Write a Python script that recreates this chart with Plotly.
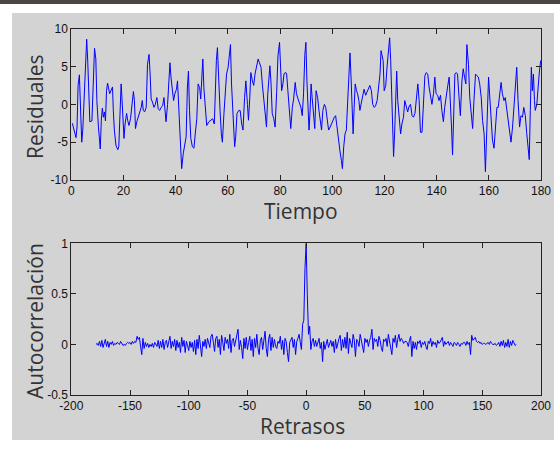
import plotly.graph_objects as go

# ---------------- data ----------------
tiempo = [
    0.4, 1.1, 1.8, 2.2, 2.6, 3.1, 3.5, 4.0, 4.4, 4.8,
    5.2, 5.6, 5.9, 6.3, 6.7, 7.1, 7.9, 8.5, 8.9, 9.4,
    9.8, 10.4, 10.8, 11.1, 11.5, 11.9, 12.3, 12.7, 13.1, 13.5,
    13.9, 14.3, 14.7, 15.3, 15.8, 16.1, 16.5, 17.1, 17.8, 18.2,
    18.7, 19.1, 19.4, 19.8, 20.2, 20.6, 21.2, 21.6, 22.1, 22.7,
    23.2, 23.8, 24.2, 24.6, 25.1, 25.7, 26.2, 26.8, 27.2, 27.6,
    28.1, 28.7, 29.2, 29.8, 30.2, 30.6, 31.1, 31.7, 32.2, 32.8,
    33.3, 33.9, 34.4, 35.0, 35.5, 35.9, 36.3, 36.9, 37.4, 37.8,
    38.2, 38.8, 39.2, 39.7, 40.3, 40.7, 41.1, 41.5, 41.9, 42.3,
    42.9, 43.4, 44.0, 44.5, 44.9, 45.3, 45.8, 46.4, 47.0, 47.5,
    48.1, 48.6, 49.2, 49.6, 50.0, 50.4, 50.8, 51.4, 51.9, 52.7,
    53.5, 54.2, 54.8, 55.2, 55.6, 56.0, 56.4, 57.0, 57.5, 57.9,
    58.5, 59.0, 59.5, 60.1, 60.6, 61.0, 61.4, 62.0, 62.6, 63.0,
    63.5, 64.2, 64.7, 65.3, 65.8, 66.4, 66.9, 67.5, 67.9, 68.4,
    68.8, 69.4, 69.9, 70.4, 71.0, 71.6, 72.1, 72.7, 73.2, 73.8,
    74.3, 74.8, 75.3, 75.7, 76.1, 76.5, 77.0, 77.6, 78.1, 78.7,
    79.2, 79.8, 80.2, 80.6, 81.1, 81.5, 81.9, 82.5, 83.0, 83.6,
    84.1, 84.7, 85.2, 85.8, 86.3, 86.9, 87.4, 88.0, 88.5, 89.0,
    89.5, 89.9, 90.3, 90.7, 91.1, 91.5, 91.9, 92.3, 92.9, 93.3,
    93.8, 94.4, 94.9, 95.5, 95.9, 96.4, 97.0, 97.5, 98.1, 98.6,
    99.2, 99.7, 100.2, 100.8, 101.3, 101.9, 102.4, 103.0, 103.5, 103.9,
    104.4, 104.9, 105.4, 106.0, 106.4, 106.8, 107.2, 107.6, 108.0, 108.4,
    108.8, 109.3, 109.7, 110.2, 110.6, 111.2, 111.7, 112.2, 112.8, 113.3,
    113.9, 114.4, 115.0, 115.5, 116.1, 116.6, 117.2, 117.7, 118.3, 118.7,
    119.1, 119.5, 119.9, 120.5, 121.0, 121.5, 122.0, 122.4, 122.8, 123.2,
    123.5, 123.9, 124.3, 124.7, 125.1, 125.6, 126.2, 126.7, 127.3, 127.8,
    128.4, 128.9, 129.5, 130.0, 130.6, 131.1, 131.7, 132.2, 132.8, 133.3,
    133.8, 134.4, 134.9, 135.5, 136.0, 136.6, 137.1, 137.7, 138.2, 138.8,
    139.3, 139.8, 140.4, 140.9, 141.5, 142.0, 142.6, 143.1, 143.7, 144.2,
    144.8, 145.3, 145.7, 146.1, 146.6, 147.0, 147.5, 148.0, 148.6, 149.1,
    149.7, 150.2, 150.7, 151.2, 151.6, 152.2, 152.7, 153.2, 153.8, 154.3,
    154.9, 155.4, 156.0, 156.5, 157.1, 157.6, 158.2, 158.7, 159.1, 159.5,
    159.9, 160.3, 160.9, 161.4, 162.0, 162.5, 163.1, 163.6, 164.2, 164.7,
    165.2, 165.8, 166.3, 166.9, 167.4, 168.0, 168.5, 169.1, 169.6, 170.2,
    170.7, 171.2, 171.8, 172.3, 172.9, 173.4, 174.0, 174.5, 175.1, 175.5,
    175.9, 176.3, 176.7, 177.1, 177.5, 177.8, 178.4, 178.9, 179.4, 179.9,
]

residuales = [
    -2.5, -3.7, -4.4, -3.0, 2.5, 3.9, -0.8, -5.0, -3.4, 0.0,
    3.1, 6.6, 8.6, 5.7, 0.5, -2.3, -2.2, 4.9, 7.4, 6.0,
    0.5, -3.0, -4.7, -5.9, -2.1, -0.5, -1.7, -1.0, -2.2, 1.8,
    2.8, 2.0, 1.4, 1.9, 2.3, -0.8, -3.4, -5.4, -6.0, -5.6,
    -1.2, 2.7, 0.9, -3.0, -4.5, -2.6, -1.2, -2.1, -2.8, -1.9,
    -0.4, 1.7, 0.5, -3.2, -2.3, -1.7, -1.0, -0.4, 0.5, -0.8,
    -1.0, -0.4, 5.3, 6.6, 4.0, 0.7, 0.3, -0.4, 0.0, 0.9,
    -0.6, -0.8, -0.4, -0.2, 0.9, -1.0, -2.3, 0.0, 4.0, 5.5,
    3.6, 1.8, 0.5, 1.4, 2.0, 3.1, 0.5, -2.8, -6.5, -8.5,
    -6.5, -5.6, -4.3, 2.3, 4.4, -0.8, -4.5, -5.6, -5.8, -3.9,
    -1.9, 2.7, 2.2, 0.7, 3.6, 6.0, 2.2, -0.4, -2.8, -2.3,
    -2.1, -1.9, -2.6, 3.1, 5.8, 7.5, 3.1, -0.8, -3.9, -5.0,
    -1.2, 0.9, 4.0, 4.9, 6.6, 7.9, 2.7, -1.2, -5.6, -4.3,
    -1.2, -0.8, -0.8, -2.6, -3.4, 0.9, 3.1, 0.0, -2.1, 0.9,
    4.2, 3.1, 2.5, 4.0, 4.9, 6.0, 5.5, 4.9, 2.7, 0.3,
    -1.7, -3.0, 1.4, 4.0, 5.1, 3.1, -1.2, -1.9, -3.0, 1.6,
    6.4, 8.2, 5.3, 1.8, 2.7, 4.0, 4.2, 4.1, 1.8, -1.7,
    -3.2, -0.4, 0.7, 2.9, 1.4, 0.7, 0.3, -0.4, -1.5, 1.4,
    6.6, 8.2, 3.1, -0.8, -3.4, -1.0, 2.7, 0.9, -2.1, -3.2,
    1.8, 0.9, -0.8, -2.6, -3.4, -0.8, 0.0, -0.4, -2.3, -3.4,
    -3.0, -2.6, -2.1, -1.7, -1.5, -3.4, -4.3, -6.3, -7.4, -8.5,
    -5.6, -3.9, -3.4, 0.5, 4.4, 6.8, 3.6, 0.0, -3.9, -0.4,
    2.7, 1.8, 1.4, 0.5, -0.8, 0.3, 1.4, 2.0, 1.2, 1.6,
    2.0, 2.5, 1.8, 0.0, -0.4, -0.2, 0.5, 2.0, 4.0, 7.1,
    6.2, 5.8, 1.8, 2.5, 4.9, 7.1, 8.8, 5.8, 0.5, -3.4,
    -6.9, -3.9, -0.4, 4.4, 0.5, -2.1, -3.9, -2.6, -1.7, 0.5,
    -0.4, -1.0, -0.2, 0.0, -1.5, -1.7, -1.2, 0.5, 2.7, 0.5,
    -3.7, -3.7, 0.5, 3.8, 4.2, 4.0, 2.3, 0.9, 0.0, 1.4,
    3.6, 1.4, 1.2, 0.5, 1.2, -0.8, -2.3, -0.4, 1.4, 2.3,
    3.6, 0.5, -3.0, -6.7, -1.7, 4.0, 4.2, 4.0, 0.9, -1.5,
    3.1, 4.7, 3.6, 2.7, 7.9, 5.3, 0.9, -0.8, -3.2, 0.5,
    4.0, 3.8, 3.6, 2.7, 0.9, -2.1, -3.9, -8.9, -5.2, 0.0,
    3.6, 1.4, -3.0, -4.7, -5.8, -3.0, -0.4, -0.4, 1.4, 2.9,
    1.4, 0.5, 0.9, -0.6, -2.1, -3.9, -5.0, -3.0, -0.4, 2.7,
    4.9, 0.5, -3.0, -1.5, -1.7, -0.4, -1.5, -3.7, -6.1, -7.3,
    -0.8, 4.9, 1.8, 4.0, 0.5, -0.8, 0.0, 2.7, 4.4, 5.8,
]

# autocorrelation, lags -179 .. -1
acf_neg = [
    0.00, 0.01, -0.01, 0.03, -0.02, 0.04, -0.03, 0.02, 0.05, -0.02,
    0.03, -0.03, 0.02, 0.00, 0.03, -0.01, 0.01, 0.00, 0.02, 0.01,
    0.00, 0.03, 0.01, -0.01, 0.00, -0.01, 0.01, 0.02, 0.01, 0.02,
    0.00, 0.03, 0.01, 0.03, 0.02, 0.08, 0.05, 0.07, -0.02, -0.10,
    0.06, -0.04, 0.02, -0.02, 0.01, -0.03, 0.00, -0.02, 0.01, -0.03,
    0.02, 0.00, -0.02, 0.04, -0.04, 0.03, -0.03, 0.05, -0.05, 0.02,
    0.04, -0.03, 0.02, 0.08, -0.04, 0.03, -0.02, 0.05, -0.06, 0.04,
    -0.03, 0.02, -0.08, 0.07, -0.02, 0.04, -0.08, 0.03, -0.01, -0.06,
    0.03, -0.03, 0.02, -0.07, 0.04, -0.10, 0.05, -0.04, 0.09, -0.06,
    -0.12, 0.03, -0.02, 0.05, -0.04, 0.06, 0.02, -0.03, 0.08, 0.10,
    0.02, -0.07, 0.06, 0.08, -0.03, 0.05, -0.10, 0.09, 0.02, -0.06,
    0.07, 0.01, 0.05, -0.04, 0.10, -0.08, 0.04, 0.06, -0.02, 0.03,
    0.08, 0.15, -0.05, 0.04, -0.03, -0.14, 0.06, -0.04, 0.07, -0.05,
    0.02, 0.08, -0.06, 0.05, -0.12, 0.06, -0.03, 0.10, -0.04, -0.10,
    0.04, 0.07, -0.05, 0.06, 0.13, -0.04, -0.12, 0.05, 0.10, -0.06,
    0.07, -0.03, 0.05, -0.02, -0.04, 0.03, 0.01, 0.08, -0.05, 0.04,
    -0.10, 0.06, 0.03, -0.08, -0.17, 0.02, 0.04, 0.07, -0.03, 0.05,
    -0.10, 0.03, 0.06, 0.10, 0.02, -0.05, 0.20, 0.24, 0.75,
]
acf_cero = [1.0]
# lags 1 .. 179
acf_pos = [
    0.48, 0.10, 0.18, -0.05, 0.03, 0.06, -0.02, 0.04, -0.02, 0.03,
    0.06, -0.04, 0.02, -0.17, 0.03, -0.05, 0.02, 0.05, -0.03, 0.01,
    0.04, -0.02, 0.03, -0.08, 0.05, -0.04, 0.02, 0.06, 0.09, -0.06,
    0.05, -0.03, 0.07, -0.04, 0.12, -0.09, 0.06, 0.02, -0.03, 0.10,
    0.04, -0.12, 0.05, 0.03, -0.02, 0.10, 0.04, -0.03, -0.08, 0.06,
    0.02, 0.05, -0.02, 0.04, 0.07, 0.15, -0.05, 0.06, 0.03, 0.05,
    -0.02, 0.08, 0.04, -0.03, -0.07, 0.05, 0.03, 0.06, -0.02, 0.10,
    0.04, -0.05, -0.10, 0.06, 0.02, 0.09, -0.03, 0.05, 0.10, 0.03,
    0.06, 0.04, 0.01, 0.03, 0.03, 0.02, -0.02, 0.04, 0.08, -0.12,
    0.03, -0.04, 0.02, -0.05, 0.03, 0.01, 0.04, -0.03, 0.02, 0.00,
    0.03, -0.02, -0.05, 0.03, 0.01, 0.06, -0.02, 0.03, 0.00, 0.02,
    -0.03, 0.04, 0.01, 0.02, 0.05, 0.07, -0.02, 0.03, 0.00, 0.02,
    0.03, -0.01, 0.02, 0.00, -0.02, 0.02, 0.01, -0.01, 0.02, 0.00,
    -0.02, 0.01, 0.00, 0.02, 0.02, -0.01, 0.03, 0.00, 0.02, -0.10,
    0.09, 0.04, 0.06, 0.07, 0.03, 0.02, 0.03, 0.01, 0.02, 0.00,
    0.01, 0.01, 0.00, 0.01, 0.02, 0.00, 0.03, 0.01, 0.00, 0.00,
    0.01, -0.01, 0.00, 0.02, -0.02, 0.03, -0.01, 0.04, -0.03, 0.02,
    -0.02, 0.05, -0.03, 0.03, -0.01, 0.04, 0.01, -0.01, 0.00,
]
retrasos = list(range(-179, 180))
autocorrelacion = acf_neg + acf_cero + acf_pos
assert len(tiempo) == len(residuales)
assert len(retrasos) == len(autocorrelacion)

x1_ticks = [0, 20, 40, 60, 80, 100, 120, 140, 160, 180]
y1_ticks = [-10, -5, 0, 5, 10]
y1_text = ["-10", "-5", "0", "5", "10"]
x2_ticks = [-200, -150, -100, -50, 0, 50, 100, 150, 200]
x2_text = ["-200", "-150", "-100", "-50", "0", "50", "100", "150", "200"]
y2_ticks = [-0.5, 0, 0.5, 1]
y2_text = ["-0.5", "0", "0.5", "1"]

# ---------------- figure ----------------
W, H = 560, 454
LINE = "#0000ff"

fig = go.Figure()
fig.add_trace(go.Scatter(x=tiempo, y=residuales, mode="lines",
                         line=dict(color=LINE, width=1), xaxis="x", yaxis="y",
                         showlegend=False))
fig.add_trace(go.Scatter(x=retrasos, y=autocorrelacion, mode="lines",
                         line=dict(color=LINE, width=1), xaxis="x2", yaxis="y2",
                         showlegend=False))

def px_x(p):
    return p / W

def px_y(p):
    return 1 - p / H

tickfont = dict(family="Liberation Sans, Arial, sans-serif", size=12, color="#111111")
axis_common = dict(showline=True, linecolor="#222222", linewidth=1, mirror="ticks",
                   ticks="inside", ticklen=5, tickcolor="#222222", tickwidth=1,
                   showgrid=False, zeroline=False, tickfont=tickfont,
                   automargin=False)

xdom = [px_x(71.3), px_x(541)]
fig.update_layout(
    template="none",
    width=W, height=H, autosize=False,
    margin=dict(l=0, r=0, t=0, b=0, pad=0, autoexpand=False),
    paper_bgcolor="white", plot_bgcolor="white",
    showlegend=False,
    xaxis=dict(domain=xdom, range=[0, 180], tickvals=x1_ticks, anchor="y", **axis_common),
    yaxis=dict(domain=[px_y(180), px_y(28.7)], range=[-10, 10], tickvals=y1_ticks,
               ticktext=y1_text, anchor="x", **axis_common),
    xaxis2=dict(domain=xdom, range=[-200, 200], tickvals=x2_ticks, ticktext=x2_text,
                anchor="y2", **axis_common),
    yaxis2=dict(domain=[px_y(395), px_y(243.3)], range=[-0.5, 1], tickvals=y2_ticks,
                ticktext=y2_text, anchor="x2", **axis_common),
    shapes=[
        dict(type="rect", xref="paper", yref="paper", layer="below",
             x0=px_x(12), x1=px_x(554), y0=px_y(440), y1=px_y(13),
             fillcolor="#d3d3d3", line=dict(width=0)),
        dict(type="rect", xref="paper", yref="paper", layer="below",
             x0=0, x1=1, y0=px_y(4), y1=1,
             fillcolor="#4b4641", line=dict(width=0)),
    ],
)

title_font = dict(family="Open Sans, Noto Sans, sans-serif", size=21, color="#333333")
annots = [
    dict(text="Residuales", x=px_x(35), y=px_y(107), textangle=-90),
    dict(text="Tiempo", x=px_x(301), y=px_y(211), textangle=0),
    dict(text="Autocorrelación", x=px_x(35), y=px_y(321), textangle=-90),
    dict(text="Retrasos", x=px_x(302), y=px_y(426), textangle=0),
]
for a in annots:
    fig.add_annotation(xref="paper", yref="paper", showarrow=False,
                       xanchor="center", yanchor="middle", font=title_font, **a)

fig.write_html(
    "out.html",
    config={"displayModeBar": False},
    post_script="document.body.style.margin='0';document.body.style.overflow='hidden';",
)
